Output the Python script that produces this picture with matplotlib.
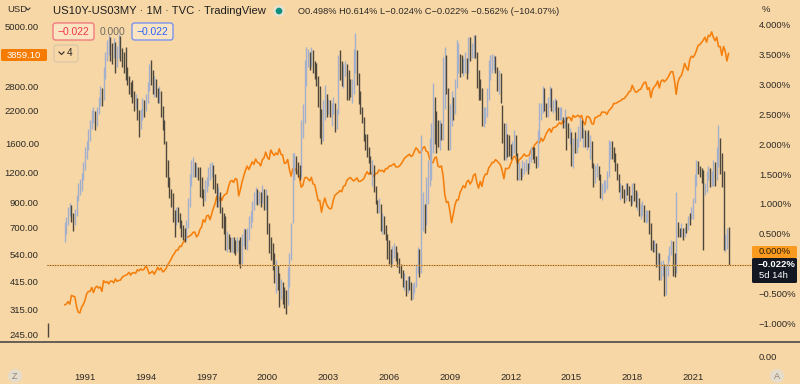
import numpy as np
import matplotlib
matplotlib.use("Agg")
import matplotlib.pyplot as plt
from matplotlib.patches import FancyBboxPatch, Circle
from matplotlib.ticker import NullLocator

plt.rcParams['font.family'] = ['Liberation Sans', 'DejaVu Sans']

# ---------------- data (monthly, Jan 1990 .. Oct 2022) ----------------
start_year = 1990

spx_close = [
    329, 332, 340, 331, 361, 358, 356, 323, 306, 304, 322, 330,          # 1990
    344, 367, 375, 375, 390, 371, 388, 395, 388, 392, 375, 417,          # 1991
    409, 413, 404, 415, 415, 408, 424, 414, 418, 419, 431, 436,          # 1992
    439, 443, 452, 440, 450, 451, 448, 464, 459, 468, 462, 466,          # 1993
    482, 467, 446, 451, 457, 444, 458, 475, 463, 472, 454, 459,          # 1994
    470, 487, 501, 515, 533, 545, 562, 562, 584, 582, 605, 616,          # 1995
    636, 640, 646, 654, 669, 671, 640, 652, 687, 705, 757, 741,          # 1996
    786, 791, 757, 801, 848, 885, 954, 899, 947, 915, 955, 970,          # 1997
    980, 1049, 1102, 1112, 1091, 1134, 1121, 957, 1017, 1099, 1164, 1229,  # 1998
    1280, 1238, 1286, 1335, 1302, 1373, 1329, 1320, 1283, 1363, 1389, 1469,  # 1999
    1394, 1366, 1499, 1452, 1421, 1455, 1431, 1518, 1437, 1429, 1315, 1320,  # 2000
    1366, 1240, 1160, 1249, 1256, 1224, 1211, 1134, 1041, 1060, 1139, 1148,  # 2001
    1130, 1107, 1147, 1076, 1067, 990, 912, 916, 815, 886, 936, 880,       # 2002
    856, 841, 848, 917, 964, 975, 990, 1008, 996, 1051, 1058, 1112,        # 2003
    1131, 1145, 1126, 1107, 1121, 1141, 1102, 1104, 1115, 1130, 1174, 1212,  # 2004
    1181, 1204, 1181, 1157, 1192, 1191, 1234, 1220, 1229, 1207, 1249, 1248,  # 2005
    1280, 1281, 1295, 1311, 1270, 1270, 1277, 1304, 1336, 1378, 1401, 1418,  # 2006
    1438, 1407, 1421, 1482, 1531, 1503, 1455, 1474, 1527, 1549, 1481, 1468,  # 2007
    1379, 1331, 1323, 1386, 1400, 1280, 1267, 1283, 1166, 969, 896, 903,   # 2008
    826, 735, 798, 873, 919, 919, 987, 1021, 1057, 1036, 1096, 1115,       # 2009
    1074, 1104, 1169, 1187, 1089, 1031, 1102, 1049, 1141, 1183, 1181, 1258,  # 2010
    1286, 1327, 1326, 1364, 1345, 1321, 1292, 1219, 1131, 1253, 1247, 1258,  # 2011
    1312, 1366, 1408, 1398, 1310, 1362, 1379, 1407, 1441, 1412, 1416, 1426,  # 2012
    1498, 1515, 1569, 1598, 1631, 1606, 1686, 1633, 1682, 1757, 1806, 1848,  # 2013
    1783, 1859, 1872, 1884, 1924, 1960, 1931, 2003, 1972, 2018, 2068, 2059,  # 2014
    1995, 2105, 2068, 2086, 2107, 2063, 2104, 1972, 1920, 2079, 2080, 2044,  # 2015
    1940, 1932, 2060, 2065, 2097, 2099, 2174, 2171, 2168, 2126, 2199, 2239,  # 2016
    2279, 2364, 2363, 2384, 2412, 2423, 2470, 2472, 2519, 2575, 2648, 2674,  # 2017
    2824, 2714, 2641, 2648, 2705, 2718, 2816, 2902, 2914, 2712, 2760, 2507,  # 2018
    2704, 2784, 2834, 2946, 2752, 2942, 2980, 2926, 2977, 3038, 3141, 3231,  # 2019
    3226, 2954, 2585, 2912, 3044, 3100, 3271, 3500, 3363, 3270, 3622, 3756,  # 2020
    3714, 3811, 3973, 4181, 4204, 4298, 4395, 4523, 4308, 4605, 4567, 4766,  # 2021
    4516, 4374, 4530, 4132, 4132, 3785, 4130, 3955, 3586, 3859.10,         # 2022
]

spread_open_first = 0.45
spread_close = [
    0.55, 0.70, 0.85, 0.95, 0.75, 0.70, 0.85, 1.10, 1.25, 1.30, 1.45, 1.60,
    1.85, 1.95, 2.10, 2.30, 2.45, 2.50, 2.35, 2.55, 2.70, 2.85, 2.80, 3.20,
    3.45, 3.60, 3.70, 3.55, 3.50, 3.65, 3.40, 3.55, 3.75, 3.55, 3.45, 3.35,
    3.20, 3.10, 2.95, 2.90, 2.85, 2.65, 2.70, 2.55, 2.35, 2.45, 2.65, 2.60,
    2.75, 2.95, 3.25, 3.20, 3.00, 3.05, 2.90, 2.80, 2.85, 2.55, 2.35, 2.05,
    1.60, 1.35, 1.20, 1.10, 0.80, 0.70, 0.85, 0.80, 0.70, 0.55, 0.50, 0.45,
    0.65, 0.95, 1.35, 1.55, 1.65, 1.55, 1.60, 1.50, 1.45, 1.20, 1.10, 1.30,
    1.35, 1.45, 1.55, 1.60, 1.45, 1.30, 1.05, 1.15, 0.90, 0.75, 0.70, 0.40,
    0.40, 0.35, 0.30, 0.35, 0.30, 0.25, 0.35, 0.15, 0.05, 0.35, 0.50, 0.40,
    0.45, 0.70, 0.75, 0.95, 1.05, 1.20, 1.10, 1.15, 1.10, 1.20, 0.95, 1.15,
    0.60, 0.30, 0.25, 0.05, -0.20, -0.05, -0.30, -0.45, -0.40, -0.55, -0.60, -0.70,
    -0.10, 0.05, 0.55, 1.45, 1.75, 1.60, 1.55, 1.50, 2.20, 2.35, 2.95, 3.45,
    3.45, 3.35, 3.55, 3.30, 3.25, 3.10, 2.80, 2.45, 2.15, 2.55, 2.75, 2.60,
    2.70, 2.55, 2.60, 2.70, 2.35, 2.50, 3.40, 3.35, 3.00, 3.25, 3.30, 3.25,
    3.00, 2.85, 2.95, 3.45, 3.55, 3.20, 2.90, 2.60, 2.45, 2.15, 2.10, 1.95,
    1.70, 1.55, 1.60, 1.25, 1.05, 0.90, 1.00, 0.65, 0.75, 0.60, 0.45, 0.35,
    0.10, 0.05, 0.15, 0.25, 0.15, 0.05, -0.05, -0.20, -0.30, -0.30, -0.45, -0.30,
    -0.35, -0.55, -0.45, -0.40, -0.10, 0.10, 0.05, 0.60, 0.85, 0.70, 1.15, 1.30,
    1.85, 2.10, 2.75, 2.25, 2.15, 2.10, 2.30, 2.15, 2.90, 3.35, 2.90, 2.20,
    2.60, 2.75, 2.55, 2.95, 3.30, 3.35, 3.30, 3.25, 3.25, 3.40, 3.20, 3.75,
    3.50, 3.50, 3.70, 3.50, 3.15, 2.85, 2.80, 2.35, 2.40, 2.50, 2.75, 3.20,
    3.35, 3.40, 3.45, 3.25, 3.00, 3.15, 2.75, 2.20, 1.90, 2.15, 2.05, 1.90,
    1.80, 1.90, 2.10, 1.85, 1.50, 1.55, 1.45, 1.55, 1.55, 1.60, 1.55, 1.70,
    1.90, 1.85, 1.80, 1.65, 2.10, 2.45, 2.55, 2.75, 2.60, 2.50, 2.70, 2.95,
    2.60, 2.60, 2.70, 2.60, 2.45, 2.50, 2.50, 2.30, 2.45, 2.30, 2.15, 2.15,
    1.65, 1.98, 1.90, 2.00, 2.10, 2.35, 2.15, 2.20, 2.00, 2.10, 2.00, 2.00,
    1.70, 1.45, 1.55, 1.58, 1.50, 1.20, 1.20, 1.30, 1.30, 1.50, 1.90, 1.95,
    1.90, 1.80, 1.65, 1.45, 1.25, 1.25, 1.20, 1.10, 1.30, 1.25, 1.10, 1.05,
    1.25, 1.20, 1.00, 1.05, 0.90, 0.90, 0.95, 0.75, 0.85, 0.85, 0.65, 0.30,
    0.25, 0.30, 0.00, 0.10, -0.20, -0.10, -0.10, -0.50, -0.20, 0.10, 0.20, 0.35,
    -0.05, -0.15, 0.60, 0.55, 0.50, 0.50, 0.45, 0.60, 0.58, 0.78, 0.75, 0.85,
    1.05, 1.40, 1.70, 1.60, 1.55, 1.40, 1.20, 1.25, 1.48, 1.50, 1.40, 1.45,
    1.55, 1.45, 1.85, 2.05, 1.65, 1.45, 0.30, 0.35, 0.498, -0.022,
]
spread_high = [
    0.70, 0.78, 0.95, 1.02, 0.98, 0.85, 0.92, 1.15, 1.35, 1.42, 1.52, 1.70,
    1.96, 2.05, 2.25, 2.40, 2.57, 2.62, 2.55, 2.62, 2.80, 2.97, 2.95, 3.30,
    3.55, 3.75, 3.83, 3.80, 3.70, 3.78, 3.72, 3.65, 3.85, 3.82, 3.62, 3.55,
    3.63, 3.30, 3.15, 3.05, 3.08, 2.90, 2.85, 2.78, 2.57, 2.60, 2.78, 2.75,
    2.85, 3.05, 3.35, 3.41, 3.25, 3.15, 3.10, 2.95, 2.97, 2.90, 2.65, 2.40,
    2.05, 1.74, 1.45, 1.25, 1.18, 0.90, 0.95, 0.95, 0.85, 0.73, 0.65, 0.60,
    0.73, 1.10, 1.50, 1.74, 1.79, 1.70, 1.68, 1.62, 1.62, 1.45, 1.25, 1.40,
    1.45, 1.62, 1.68, 1.70, 1.65, 1.50, 1.35, 1.29, 1.20, 0.95, 0.85, 0.79,
    0.55, 0.50, 0.45, 0.45, 0.45, 0.40, 0.45, 0.40, 0.45, 0.50, 0.60, 0.58,
    0.60, 0.80, 0.88, 1.05, 1.20, 1.29, 1.25, 1.22, 1.20, 1.32, 1.25, 1.25,
    1.15, 0.68, 0.45, 0.35, 0.18, 0.06, -0.02, -0.16, -0.25, -0.30, -0.40, -0.45,
    -0.05, 0.18, 0.68, 1.85, 1.85, 1.80, 1.70, 1.65, 2.40, 2.68, 3.41, 3.63,
    3.60, 3.55, 3.63, 3.58, 3.40, 3.36, 3.15, 2.97, 2.60, 2.75, 3.00, 2.85,
    2.76, 2.75, 2.70, 2.80, 2.70, 2.60, 3.50, 3.58, 3.40, 3.35, 3.40, 3.35,
    3.24, 3.10, 3.10, 3.60, 3.86, 3.58, 3.20, 2.90, 2.63, 2.45, 2.18, 2.18,
    1.96, 1.80, 1.74, 1.65, 1.30, 1.07, 1.10, 1.00, 0.85, 0.79, 0.65, 0.50,
    0.40, 0.25, 0.29, 0.35, 0.30, 0.20, 0.10, 0.00, -0.10, -0.15, -0.27, -0.20,
    -0.20, -0.30, -0.35, -0.30, 0.00, 0.28, 0.25, 2.16, 1.20, 1.00, 1.45, 1.74,
    2.10, 2.35, 3.02, 2.80, 2.55, 2.40, 2.40, 2.35, 3.47, 3.63, 3.50, 2.95,
    2.68, 2.90, 2.80, 3.10, 3.75, 3.70, 3.52, 3.50, 3.45, 3.55, 3.45, 3.80,
    3.80, 3.70, 3.83, 3.83, 3.55, 3.24, 3.10, 2.95, 2.63, 2.62, 2.95, 3.41,
    3.50, 3.52, 3.50, 3.48, 3.30, 3.24, 3.20, 2.66, 2.35, 2.35, 2.18, 2.15,
    2.00, 2.05, 2.24, 2.15, 1.85, 1.70, 1.60, 1.74, 1.70, 1.75, 1.68, 1.80,
    1.96, 1.96, 1.95, 1.80, 2.24, 2.69, 2.70, 2.97, 2.95, 2.70, 2.80, 2.97,
    2.94, 2.74, 2.78, 2.74, 2.62, 2.63, 2.63, 2.46, 2.60, 2.46, 2.35, 2.28,
    2.20, 2.10, 2.20, 2.10, 2.30, 2.46, 2.40, 2.28, 2.24, 2.20, 2.24, 2.15,
    2.05, 1.68, 1.65, 1.68, 1.63, 1.50, 1.35, 1.40, 1.40, 1.55, 2.07, 2.05,
    2.05, 1.95, 1.85, 1.68, 1.50, 1.35, 1.32, 1.25, 1.35, 1.35, 1.30, 1.15,
    1.35, 1.35, 1.24, 1.20, 1.10, 1.00, 1.05, 0.98, 0.90, 0.90, 0.90, 0.68,
    0.40, 0.40, 0.34, 0.20, 0.18, 0.05, 0.06, 0.00, 0.00, 0.15, 0.30, 0.40,
    0.38, 0.18, 1.20, 0.70, 0.60, 0.68, 0.60, 0.62, 0.68, 0.80, 0.85, 0.95,
    1.10, 1.50, 1.74, 1.72, 1.63, 1.60, 1.57, 1.35, 1.55, 1.63, 1.60, 1.55,
    1.74, 1.70, 1.96, 2.32, 2.10, 1.85, 1.55, 0.50, 0.60, 0.614,
]
spread_low = [
    0.37, 0.50, 0.65, 0.80, 0.70, 0.55, 0.65, 0.80, 1.05, 1.15, 1.22, 1.40,
    1.57, 1.75, 1.90, 2.05, 2.25, 2.35, 2.24, 2.30, 2.50, 2.65, 2.65, 2.75,
    3.10, 3.40, 3.50, 3.40, 3.35, 3.45, 3.19, 3.30, 3.45, 3.40, 3.30, 3.20,
    3.08, 3.00, 2.85, 2.80, 2.70, 2.55, 2.60, 2.40, 2.13, 2.25, 2.40, 2.45,
    2.55, 2.70, 2.90, 3.00, 2.85, 2.80, 2.80, 2.70, 2.69, 2.45, 2.24, 2.00,
    1.45, 1.29, 1.10, 0.95, 0.70, 0.45, 0.65, 0.70, 0.60, 0.45, 0.40, 0.37,
    0.40, 0.60, 0.95, 1.30, 1.46, 1.45, 1.45, 1.40, 1.12, 1.10, 0.96, 1.05,
    1.20, 1.30, 1.40, 1.45, 1.25, 1.18, 0.95, 0.95, 0.85, 0.60, 0.50, 0.23,
    0.20, 0.25, 0.20, 0.20, 0.18, 0.15, 0.20, 0.00, -0.08, 0.00, 0.30, 0.25,
    0.23, 0.40, 0.60, 0.70, 0.90, 1.00, 0.98, 1.00, 0.95, 1.02, 0.90, 0.90,
    0.50, 0.18, 0.06, -0.10, -0.33, -0.50, -0.45, -0.72, -0.60, -0.67, -0.75, -0.85,
    -0.70, -0.39, 0.06, 0.68, 1.40, 1.50, 1.46, 1.40, 1.45, 2.10, 2.35, 2.97,
    3.30, 3.24, 3.30, 3.20, 3.10, 2.97, 2.63, 2.10, 2.00, 2.05, 2.40, 2.45,
    2.50, 2.45, 2.30, 2.50, 2.20, 2.25, 2.50, 3.08, 2.97, 2.95, 3.15, 2.74,
    2.74, 2.80, 2.70, 2.85, 3.20, 3.00, 2.68, 2.50, 2.35, 2.05, 1.90, 1.79,
    1.68, 1.50, 1.30, 1.20, 1.00, 0.85, 0.85, 0.55, 0.50, 0.50, 0.40, 0.07,
    0.00, -0.05, 0.00, 0.10, 0.05, -0.05, -0.15, -0.24, -0.40, -0.45, -0.55, -0.50,
    -0.45, -0.61, -0.60, -0.50, -0.40, -0.15, -0.22, -0.16, 0.55, 0.51, 0.65, 1.00,
    1.30, 1.40, 1.85, 2.00, 1.86, 1.95, 1.90, 2.07, 2.07, 2.60, 2.85, 1.90,
    1.90, 2.30, 2.40, 2.50, 2.95, 3.19, 3.13, 3.20, 3.15, 3.20, 3.10, 3.20,
    3.40, 3.45, 3.45, 3.45, 2.95, 2.74, 2.75, 2.30, 2.29, 2.35, 2.45, 2.75,
    3.07, 3.20, 3.25, 3.20, 2.90, 2.85, 2.70, 2.02, 1.74, 1.74, 1.79, 1.80,
    1.75, 1.80, 1.85, 1.80, 1.40, 1.40, 1.40, 1.46, 1.50, 1.55, 1.50, 1.58,
    1.70, 1.75, 1.68, 1.60, 1.62, 2.07, 2.40, 2.52, 2.55, 2.45, 2.45, 2.63,
    2.55, 2.52, 2.55, 2.41, 2.40, 2.41, 2.41, 2.28, 2.28, 1.90, 2.10, 2.00,
    1.63, 1.60, 1.85, 1.85, 1.95, 2.05, 2.10, 1.96, 1.96, 1.90, 1.95, 1.75,
    1.60, 1.29, 1.35, 1.45, 1.40, 1.10, 1.07, 1.18, 1.20, 1.25, 1.45, 1.75,
    1.75, 1.70, 1.55, 1.40, 1.20, 1.07, 1.10, 1.02, 1.05, 1.15, 1.05, 0.96,
    1.00, 1.05, 0.95, 0.90, 0.80, 0.74, 0.80, 0.70, 0.68, 0.70, 0.50, 0.23,
    0.20, 0.20, -0.05, -0.05, -0.27, -0.27, -0.20, -0.55, -0.52, -0.20, 0.05, 0.15,
    -0.20, -0.22, -0.16, 0.45, 0.45, 0.45, 0.40, 0.45, 0.51, 0.57, 0.65, 0.74,
    0.74, 1.01, 1.30, 1.50, 1.45, 1.35, 0.23, 1.15, 1.20, 1.40, 1.29, 1.30,
    1.30, 1.30, 1.40, 1.62, 1.50, 1.29, 0.23, 0.20, 0.25, -0.024,
]
# isolated early bar at the left edge (early 1989)
early_time = [1989.17]
early_high = [-1.00]
early_low = [-1.23]

left_ticks = [245, 315, 415, 540, 700, 900, 1200, 1600, 2200, 2800, 5000]
right_ticks = [4.0, 3.5, 3.0, 2.5, 2.0, 1.5, 1.0, 0.5, -0.5, -1.0]
year_ticks = [1991, 1994, 1997, 2000, 2003, 2006, 2009, 2012, 2015, 2018, 2021]

# ---------------- styling ----------------
W, H = 800, 384
BG = '#F8D7A6'
TXT = '#2c2a26'
ORANGE = '#F57F0C'
UP = '#A2B0CE'
DOWN = '#4E483C'

fig = plt.figure(figsize=(W / 100, H / 100), dpi=100, facecolor=BG)
PLOT_L, PLOT_R, PLOT_T, PLOT_B = 47, 752, 0, 342
ax = fig.add_axes([PLOT_L / W, 1 - PLOT_B / H, (PLOT_R - PLOT_L) / W, (PLOT_B - PLOT_T) / H])
ax.set_facecolor(BG)
ax2 = ax.twinx()

n = len(spx_close)
t = start_year + np.arange(n) / 12.0

# S&P line (left, log)
ax.plot(t, spx_close, color=ORANGE, lw=1.15, zorder=2, solid_joinstyle='round')
ax.set_yscale('log')
ax.set_ylim(228.6, 6513)
ax.set_yticks(left_ticks)
ax.set_yticklabels([f'{v:.2f}' for v in left_ticks])
ax.yaxis.set_minor_locator(NullLocator())
ax.tick_params(axis='y', which='both', length=0, pad=5.8, labelsize=6.8, labelcolor=TXT)
ax.set_xlim(1989.125, 2023.906)
ax.set_xticks(year_ticks)
ax.set_xticklabels([str(y) for y in year_ticks])
ax.tick_params(axis='x', length=0, pad=22.0, labelsize=6.8, labelcolor=TXT)

# spread bars (right)
close = np.array(spread_close)
high = np.array(spread_high)
low = np.array(spread_low)
opens = np.concatenate([[spread_open_first], close[:-1]])
up = close >= opens
ax2.vlines(t[up], low[up], high[up], colors=UP, lw=1.0, zorder=3)
ax2.vlines(t[~up], low[~up], high[~up], colors=DOWN, lw=1.0, zorder=4)
ax2.vlines(early_time, early_low, early_high, colors=DOWN, lw=1.0, zorder=4)
ax2.set_ylim(-1.314, 4.419)
ax2.set_yticks(right_ticks)
ax2.set_yticklabels([f'{v:.3f}%'.replace('-', '\u2212') for v in right_ticks])
ax2.tick_params(axis='y', length=0, pad=5.0, labelsize=6.8, labelcolor=TXT)
# last price line
ax2.axhline(spread_close[-1], color='#F4B25A', lw=0.9, zorder=5)
ax2.axhline(spread_close[-1], color='#6B5230', lw=0.7, ls=(0, (1, 1.6)), zorder=6)

for a in (ax, ax2):
    for s in a.spines.values():
        s.set_visible(False)

# ---------------- overlay in pixel coordinates ----------------
ov = fig.add_axes([0, 0, 1, 1], zorder=10)
ov.set_xlim(0, W)
ov.set_ylim(H, 0)
ov.axis('off')
ov.patch.set_alpha(0)


def box(x0, y0, x1, y1, fc, ec='none', r=2.5, lw=1.0):
    ov.add_patch(FancyBboxPatch((x0, y0), x1 - x0, y1 - y0,
                                boxstyle=f'round,pad=0,rounding_size={r}',
                                fc=fc, ec=ec, lw=lw))


# bottom separator
ov.plot([0, W], [342, 342], color='#4d4a45', lw=1.2)

# header
ov.text(7, 9, 'USD', fontsize=6.8, color=TXT, va='center', ha='left')
ov.plot([26, 28, 30], [8, 10, 8], color=TXT, lw=0.7)
ov.text(53, 11, 'US10Y-US03MY \u00b7 1M \u00b7 TVC \u00b7 TradingView', fontsize=8.1,
        color='#1e1e1e', va='center', ha='left')
ov.add_patch(Circle((279, 11), 6, fc='#E5E2D0', ec='none'))
ov.add_patch(Circle((279, 11), 3.3, fc='#0B8F7F', ec='none'))
ov.text(298, 12, 'O0.498% H0.614% L\u22120.024% C\u22120.022% \u22120.562% (\u2212104.07%)',
        fontsize=6.7, color=TXT, va='center', ha='left')

box(53, 23, 94, 40, fc='#FBE4C2', ec='#F0707A', lw=0.9)
ov.text(73.5, 32, '\u22120.022', fontsize=7.4, color='#F23645', va='center', ha='center')
ov.text(113, 32, '0.000', fontsize=7.4, color='#6e6a62', va='center', ha='center')
box(132, 23, 173, 40, fc='#FBE4C2', ec='#6C8CF5', lw=0.9)
ov.text(152.5, 32, '\u22120.022', fontsize=7.4, color='#2962FF', va='center', ha='center')
box(54, 45, 78, 62, fc='none', ec='#D9C7A8', lw=0.9)
ov.plot([59, 61.5, 64], [52, 54.5, 52], color=TXT, lw=0.8)
ov.text(70, 53.5, '4', fontsize=7.2, color=TXT, va='center', ha='center')

# left last-value box
box(1, 49, 47, 61, fc='#F57C00', r=1.5)
ov.text(24, 55, '3859.10', fontsize=6.8, color='white', va='center', ha='center')

# right axis header and boxes
ov.text(762, 9, '%', fontsize=6.8, color=TXT, va='center', ha='left')
box(752, 246, 797, 258, fc='#FA9A1E', r=1.5)
ov.text(759, 252, '0.000%', fontsize=6.8, color='#2a1c08', va='center', ha='left')
box(752, 258, 797, 283, fc='#131722', r=1.5)
ov.text(758, 264.5, '\u22120.022%', fontsize=6.8, color='white', va='center', ha='left', fontweight='bold')
ov.text(759, 276, '5d 14h', fontsize=6.8, color='white', va='center', ha='left')
ov.text(759, 358, '0.00', fontsize=6.8, color=TXT, va='center', ha='left')

# Z / A buttons
for cx, s in ((15, 'Z'), (777, 'A')):
    ov.add_patch(Circle((cx, 376), 7, fc='#E6DCCB', ec='none'))
    ov.text(cx, 376.5, s, fontsize=6.5, color='#8a8478', va='center', ha='center')

fig.savefig('out.png', dpi=100, facecolor=BG)
